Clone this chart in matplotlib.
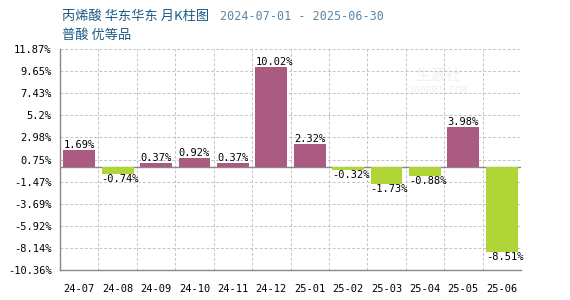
import numpy as np
import matplotlib.pyplot as plt

months = ['24-07', '24-08', '24-09', '24-10', '24-11', '24-12',
          '25-01', '25-02', '25-03', '25-04', '25-05', '25-06']
changes = [1.69, -0.74, 0.37, 0.92, 0.37, 10.02,
           2.32, -0.32, -1.73, -0.88, 3.98, -8.51]
yticks = [11.87, 9.65, 7.43, 5.2, 2.98, 0.75, -1.47, -3.69, -5.92, -8.14, -10.36]

pos_color = '#ab5a82'
neg_color = '#afd636'
grid_color = '#c4c4c4'
mono = 'DejaVu Sans Mono'

fig = plt.figure(figsize=(5.7, 3.0), dpi=100)
ax = fig.add_axes([60 / 570, 30 / 300, 461 / 570, 221 / 300])

x = np.arange(len(months))
width = 0.83
colors = [pos_color if v >= 0 else neg_color for v in changes]
ax.bar(x, changes, width=width, color=colors, zorder=3)

ax.set_xlim(-0.5, len(months) - 0.5)
ax.set_ylim(yticks[-1], yticks[0])

# value labels, left aligned at the bar's left edge
for xi, v in zip(x, changes):
    if v >= 0:
        ax.text(xi - width / 2, v, f'{v:.2f}%', ha='left', va='bottom',
                fontsize=7.5, family=mono, zorder=4)
    else:
        ax.text(xi - width / 2, v, f'{v:.2f}%', ha='left', va='top',
                fontsize=7.5, family=mono, zorder=4)

# grid: dashed lines at category boundaries and at y ticks
for b in np.arange(0.5, len(months), 1.0):
    ax.axvline(b, color=grid_color, ls=(0, (3, 2)), lw=0.7, zorder=1)
for t in yticks:
    ax.axhline(t, color=grid_color, ls=(0, (3, 2)), lw=0.7, zorder=1)
ax.axhline(0, color='#888888', lw=1.0, zorder=2)

ax.set_yticks(yticks)
ax.set_yticklabels([f'{t}%' for t in yticks], family=mono, fontsize=7.5)
ax.set_xticks(x)
ax.set_xticklabels(months, family=mono, fontsize=7.5)
ax.tick_params(length=0, pad=6)
ax.tick_params(axis='x', pad=10)

for s in ['top', 'right']:
    ax.spines[s].set_visible(False)
for s in ['left', 'bottom']:
    ax.spines[s].set_color('#888888')
    ax.spines[s].set_linewidth(1.0)

# faint watermark
ax.text(0.82, 0.88, '生意社', transform=ax.transAxes, ha='center', va='center',
        fontsize=11, color='#f1f1f1', family='Noto Sans CJK SC', zorder=0)
ax.text(0.82, 0.81, '100PPI.COM', transform=ax.transAxes, ha='center', va='center',
        fontsize=7, color='#f1f1f1', family=mono, zorder=0)

fig.text(62 / 570, 1 - 16 / 300, '丙烯酸 华东华东 月K柱图', family='Noto Sans CJK SC',
         fontsize=9.5, color='#1b5a87', va='center', ha='left')
fig.text(220 / 570, 1 - 16 / 300, '2024-07-01 - 2025-06-30', family=mono,
         fontsize=8.5, color='#5a86a8', va='center', ha='left')
fig.text(62 / 570, 1 - 35 / 300, '普酸 优等品', family='Noto Sans CJK SC',
         fontsize=9.5, color='#1b5a87', va='center', ha='left')

fig.savefig('out.png', dpi=100)
